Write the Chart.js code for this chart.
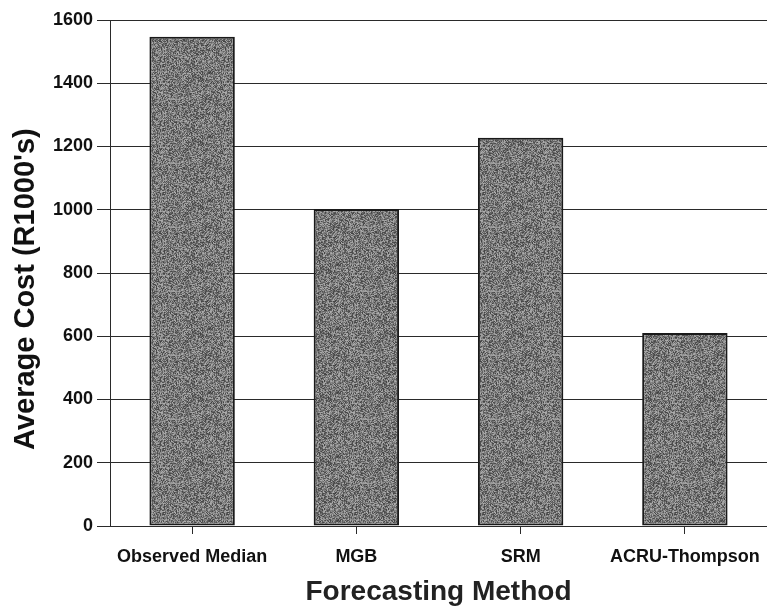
<!DOCTYPE html>
<html>
<head>
<meta charset="utf-8">
<script src="https://cdn.jsdelivr.net/npm/chart.js@4"></script>
<style>
  html, body { margin: 0; padding: 0; background: #fff; }
  #wrap { width: 767px; height: 612px; }
</style>
</head>
<body>
<div id="wrap"><canvas id="costChart" width="767" height="612"></canvas></div>
<script>
// data
const methods = ['Observed Median', 'MGB', 'SRM', 'ACRU-Thompson'];
const avgCost = [1547, 1002, 1228, 610];
const yTicks = [0, 200, 400, 600, 800, 1000, 1200, 1400, 1600];

// speckled grey fill, like the scanned bars (fixed hash, not data)
function makeSpeckle() {
    const c = document.createElement('canvas');
    c.width = 64; c.height = 64;
    const g = c.getContext('2d');
    const img = g.createImageData(64, 64);
    let s = 12345;
    for (let i = 0; i < 64 * 64; i++) {
        s = (s * 1103515245 + 12345) & 0x7fffffff;
        const v = 65 + (s >> 8) % 110;
        img.data[i * 4] = v;
        img.data[i * 4 + 1] = v;
        img.data[i * 4 + 2] = v;
        img.data[i * 4 + 3] = 255;
    }
    g.putImageData(img, 0, 0);
    return g.createPattern(c, 'repeat');
}

const ctx = document.getElementById('costChart').getContext('2d');
const boldFont = (size) => ({ family: '"Liberation Sans", Arial, sans-serif', size: size, weight: 'bold' });

new Chart(ctx, {
    type: 'bar',
    data: {
        labels: methods,
        datasets: [{
            data: avgCost,
            backgroundColor: makeSpeckle(),
            borderColor: '#1a1a1a',
            borderWidth: 2,
            borderSkipped: false,
            categoryPercentage: 0.52,
            barPercentage: 1.0
        }]
    },
    options: {
        responsive: false,
        animation: false,
        layout: { padding: { top: 20, right: 0, bottom: 0, left: 0 } },
        plugins: {
            legend: { display: false },
            tooltip: { enabled: false }
        },
        scales: {
            y: {
                min: 0,
                max: 1600,
                afterBuildTicks: (scale) => { scale.ticks = yTicks.map(v => ({ value: v })); },
                afterFit: (scale) => { scale.width = 110; },
                grid: {
                    color: '#2a2a2a',
                    lineWidth: 1,
                    tickLength: 13
                },
                border: { color: '#2a2a2a', width: 1 },
                ticks: {
                    color: '#111',
                    font: boldFont(18),
                    padding: 4,
                    callback: (v) => String(v)
                },
                title: {
                    display: true,
                    // trailing spaces nudge the rotated title down, as in the scan
                    text: "Average Cost (R1000's)\u00a0\u00a0\u00a0\u00a0",
                    color: '#111',
                    font: boldFont(29),
                    padding: { top: 9, bottom: 0 }
                }
            },
            x: {
                afterFit: (scale) => {
                    scale.height = 86;
                    scale.paddingRight = 0;
                },
                grid: {
                    offset: false,
                    drawOnChartArea: false,
                    drawTicks: true,
                    tickLength: 8,
                    color: '#2a2a2a'
                },
                border: { color: '#2a2a2a', width: 1 },
                ticks: {
                    color: '#111',
                    font: boldFont(18),
                    padding: 12,
                    maxRotation: 0,
                    autoSkip: false
                },
                title: {
                    display: true,
                    text: 'Forecasting Method',
                    color: '#222',
                    font: boldFont(28),
                    padding: { top: 0, bottom: 3 }
                }
            }
        }
    }
});
</script>
</body>
</html>
